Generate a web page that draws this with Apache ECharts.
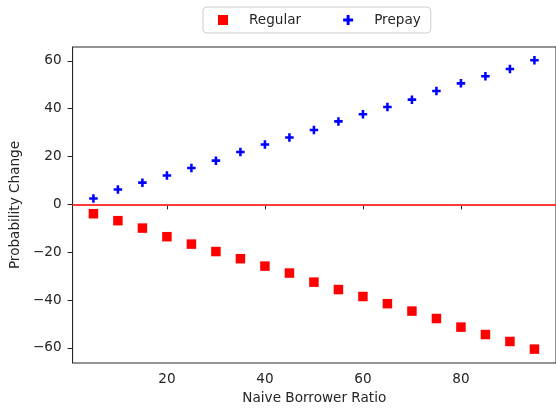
<!DOCTYPE html>
<html>
<head>
<meta charset="utf-8">
<script src="https://cdn.jsdelivr.net/npm/echarts@6/dist/echarts.min.js"></script>
<style>
  html, body { margin: 0; padding: 0; background: #fff; }
  #chart { width: 556px; height: 412px; }
</style>
</head>
<body>
<div id="chart"></div>
<script>
// Naive borrower ratio (%) on the x axis
const ratios = [5, 10, 15, 20, 25, 30, 35, 40, 45, 50, 55, 60, 65, 70, 75, 80, 85, 90, 95];
// Change in probability for each loan type
const regular = [-3.9, -6.8, -9.9, -13.5, -16.6, -19.7, -22.7, -25.8, -28.7, -32.5,
                 -35.6, -38.5, -41.5, -44.6, -47.7, -51.3, -54.4, -57.3, -60.5];
const prepay = [2.5, 6.2, 9.1, 12.1, 15.2, 18.3, 21.9, 25.0, 28.0, 31.1,
                34.7, 37.7, 40.7, 43.8, 47.4, 50.6, 53.6, 56.6, 60.3];
const xTicks = [20, 40, 60, 80];
const yTicks = [-60, -40, -20, 0, 20, 40, 60];

const plusPath = 'path://M3.5,0H6.5V3.5H10V6.5H6.5V10H3.5V6.5H0V3.5H3.5Z';
const font = 'DejaVu Sans';
const fs = 13.6;
const ink = '#262626';
// typographic minus for negative tick labels
const fmt = v => String(v).replace('-', '\u2212');

const chart = echarts.init(document.getElementById('chart'), null, { renderer: 'canvas' });
chart.setOption({
  animation: false,
  backgroundColor: '#fff',
  textStyle: { fontFamily: font },
  legend: {
    left: 203, top: 7,
    padding: [6, 10, 6, 15],
    itemGap: 42, itemWidth: 10, itemHeight: 10,
    borderColor: '#cccccc', borderWidth: 1, borderRadius: 4,
    textStyle: { fontFamily: font, fontSize: fs, color: ink, padding: [0, 0, 0, 16], lineHeight: 14 },
    data: ['Regular', 'Prepay']
  },
  grid: {
    left: 72, right: -3, top: 47, bottom: 49,
    show: true, borderColor: ink, borderWidth: 1
  },
  xAxis: {
    type: 'value', min: 0.75, max: 99.4,
    name: 'Naive Borrower Ratio', nameLocation: 'middle', nameGap: 28,
    nameTextStyle: { fontFamily: font, fontSize: fs, color: ink },
    axisLine: { show: true, lineStyle: { color: ink } },
    axisTick: { show: true, length: 5, lineStyle: { color: ink }, customValues: xTicks },
    axisLabel: { fontFamily: font, fontSize: fs, color: ink, margin: 9, customValues: xTicks, formatter: fmt },
    splitLine: { show: false }
  },
  yAxis: {
    type: 'value', min: -66.3, max: 65.8,
    name: 'Probability Change', nameLocation: 'middle', nameGap: 45,
    nameTextStyle: { fontFamily: font, fontSize: fs, color: ink },
    axisLine: { show: true, lineStyle: { color: ink } },
    axisTick: { show: true, length: 5, lineStyle: { color: ink }, customValues: yTicks },
    axisLabel: { fontFamily: font, fontSize: fs, color: ink, margin: 11, customValues: yTicks, formatter: fmt },
    splitLine: { show: false }
  },
  series: [
    {
      name: 'Regular', type: 'scatter', symbol: 'rect', symbolSize: 9.5,
      itemStyle: { color: '#ff0000', opacity: 1 },
      data: ratios.map((x, i) => [x, regular[i]]),
      z: 3
    },
    {
      name: 'Prepay', type: 'scatter', symbol: plusPath, symbolSize: 8.5,
      itemStyle: { color: '#0000ff', opacity: 1 },
      data: ratios.map((x, i) => [x, prepay[i]]),
      markLine: {
        silent: true, symbol: 'none', label: { show: false },
        lineStyle: { color: '#ff3b3b', width: 2, type: 'solid' },
        data: [{ yAxis: 0 }]
      },
      z: 2
    }
  ]
});
</script>
</body>
</html>
